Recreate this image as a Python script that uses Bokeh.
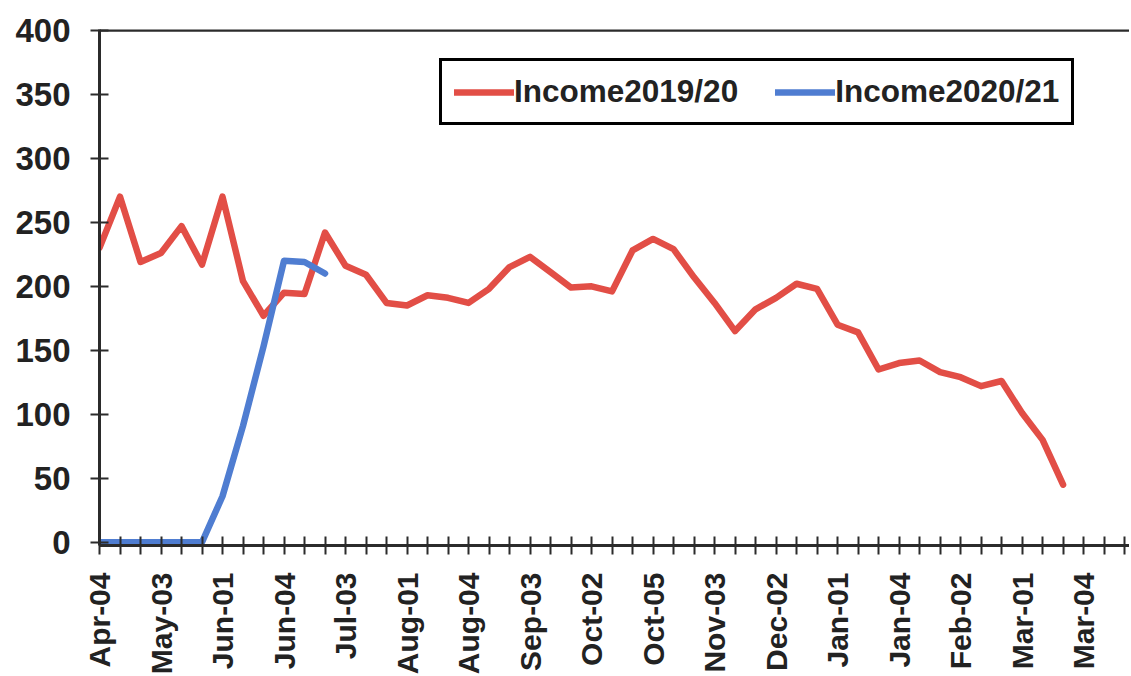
import math
from bokeh.plotting import figure
from bokeh.models import Range1d, FixedTicker, Span, Legend, LegendItem
from bokeh.embed import file_html
from bokeh.resources import INLINE

# ---- data ----
week_labels = ["Apr-04", "May-03", "Jun-01", "Jun-04", "Jul-03", "Aug-01", "Aug-04",
               "Sep-03", "Oct-02", "Oct-05", "Nov-03", "Dec-02", "Jan-01", "Jan-04",
               "Feb-02", "Mar-01", "Mar-04"]
label_step = 3
n_ticks = 51

income_2019_20 = [230, 270, 219, 226, 247, 217, 270, 204, 177, 195, 194, 242, 216, 209,
                  187, 185, 193, 191, 187, 198, 215, 223, 211, 199, 200, 196, 228, 237,
                  229, 207, 187, 165, 182, 191, 202, 198, 170, 164, 135, 140, 142, 133,
                  129, 122, 126, 101, 80, 45]
income_2020_21 = [0, 0, 0, 0, 0, 0, 36, 91, 153, 220, 219, 210]

y_ticks = [0, 50, 100, 150, 200, 250, 300, 350, 400]

FONT = "Liberation Sans"
RED = "#E24E46"
BLUE = "#4F7DD1"
AXIS = "#2b2b2b"

p = figure(frame_width=1030, frame_height=516, output_backend="svg", toolbar_location=None,
           x_range=Range1d(0, 50.24), y_range=Range1d(-2.5, 400.6),
           min_border_left=99, min_border_top=29, min_border_right=0, min_border_bottom=0)
p.outline_line_color = None
p.grid.visible = False
p.background_fill_color = "white"
p.border_fill_color = "white"

# top frame line
p.add_layout(Span(location=400, dimension="width", line_color=AXIS, line_width=3))

r1 = p.line(list(range(len(income_2019_20))), income_2019_20, line_color=RED,
            line_width=6.5, line_join="round", line_cap="round")
r2 = p.line(list(range(len(income_2020_21))), income_2020_21, line_color=BLUE,
            line_width=6.5, line_join="round", line_cap="round")

# x axis
overrides = {}
for i in range(n_ticks):
    overrides[i] = ""
for k, lab in enumerate(week_labels):
    overrides[k * label_step] = lab
xa = p.xaxis[0]
xa.ticker = FixedTicker(ticks=list(range(n_ticks)))
xa.major_label_overrides = overrides
xa.major_label_orientation = math.pi / 2
xa.major_label_standoff = 18
xa.minor_tick_line_color = None
xa.major_tick_in = 9
xa.major_tick_out = 9
xa.major_tick_line_width = 2
xa.major_tick_line_color = AXIS
xa.axis_line_width = 3
xa.axis_line_color = AXIS
xa.major_label_text_font = FONT
xa.major_label_text_font_style = "bold"
xa.major_label_text_font_size = "30px"
xa.major_label_text_color = "#222222"

ya = p.yaxis[0]
ya.ticker = FixedTicker(ticks=y_ticks)
ya.minor_tick_line_color = None
ya.major_tick_in = 9
ya.major_tick_out = 9
ya.major_tick_line_width = 2
ya.major_tick_line_color = AXIS
ya.axis_line_width = 3
ya.axis_line_color = AXIS
ya.major_label_standoff = 20
ya.major_label_text_font = FONT
ya.major_label_text_font_style = "bold"
ya.major_label_text_font_size = "33px"
ya.major_label_text_color = "#222222"

legend = Legend(items=[LegendItem(label="Income2019/20", renderers=[r1]),
                       LegendItem(label="Income2020/21", renderers=[r2])],
                orientation="horizontal", location=(340, 420))
legend.label_text_font = FONT
legend.label_text_font_style = "bold"
legend.label_text_font_size = "31.5px"
legend.label_text_color = "#222222"
legend.glyph_width = 60
legend.glyph_height = 30
legend.label_standoff = 0
legend.spacing = 37
legend.padding = 12
legend.margin = 0
legend.border_line_color = "black"
legend.border_line_alpha = 1.0
legend.border_line_width = 3
legend.background_fill_color = "white"
legend.background_fill_alpha = 1.0
p.add_layout(legend)

open("out.html", "w").write(file_html(p, INLINE))
